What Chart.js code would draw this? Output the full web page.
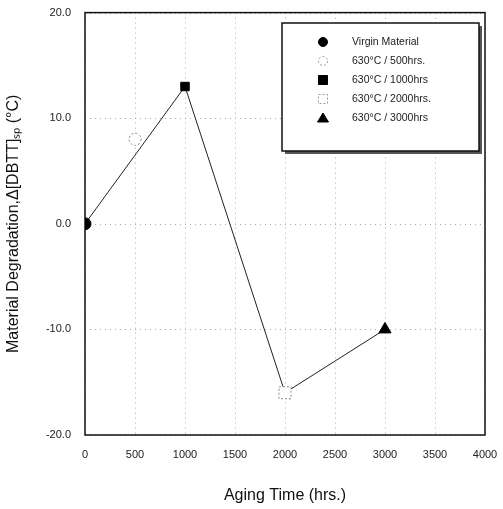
<!DOCTYPE html>
<html>
<head>
<meta charset="utf-8">
<script src="https://cdn.jsdelivr.net/npm/chart.js@4/dist/chart.umd.min.js"></script>
<style>
  html, body { margin: 0; padding: 0; background: #fff; }
  #wrap { width: 503px; height: 509px; }
</style>
</head>
<body>
<div id="wrap"><canvas id="chart"></canvas></div>
<script>
// aging time (hrs) and degradation values
const agingHours = [0, 500, 1000, 2000, 3000];
const degradation = [0, 8, 13, -16, -10];
const seriesLabels = [
  "Virgin Material",
  "630\u00B0C / 500hrs.",
  "630\u00B0C / 1000hrs",
  "630\u00B0C / 2000hrs.",
  "630\u00B0C / 3000hrs"
];
// which points the connecting line goes through
const lineHours = [0, 1000, 2000, 3000];
const lineValues = [0, 13, -16, -10];

const xTicks = [0, 500, 1000, 1500, 2000, 2500, 3000, 3500, 4000];
const yTicks = [-20, -10, 0, 10, 20];

const markers = [
  { style: "circle", fill: "#000", border: "#000", dash: [] },
  { style: "circle", fill: "#fff", border: "#999", dash: [2, 2] },
  { style: "rect", fill: "#000", border: "#000", dash: [] },
  { style: "rect", fill: "#fff", border: "#999", dash: [2, 2] },
  { style: "triangle", fill: "#000", border: "#000", dash: [] }
];

const datasets = [{
  label: "line",
  data: lineHours.map((h, i) => ({ x: h, y: lineValues[i] })),
  showLine: true,
  borderColor: "#222",
  borderWidth: 1,
  pointRadius: 0,
  order: 10
}];
agingHours.forEach((h, i) => {
  datasets.push({
    label: seriesLabels[i],
    data: [{ x: h, y: degradation[i] }],
    pointStyle: markers[i].style,
    pointRadius: markers[i].dash.length ? 0 : (markers[i].style === "triangle" ? 7 : 6),
    backgroundColor: markers[i].fill,
    borderColor: markers[i].border,
    borderWidth: 1,
    order: 1
  });
});

// dotted grid, full frame, hollow markers and the boxed legend
const boxLegend = {
  id: "boxLegend",
  beforeDatasetsDraw(chart) {
    const { ctx, chartArea: a, scales } = chart;
    ctx.save();
    ctx.strokeStyle = "#aaa";
    ctx.lineWidth = 1;
    ctx.setLineDash([1, 4]);
    xTicks.forEach(v => {
      const px = Math.round(scales.x.getPixelForValue(v)) + 0.5;
      ctx.beginPath(); ctx.moveTo(px, a.top); ctx.lineTo(px, a.bottom); ctx.stroke();
    });
    yTicks.forEach(v => {
      const py = Math.round(scales.y.getPixelForValue(v)) + 0.5;
      ctx.beginPath(); ctx.moveTo(a.left, py); ctx.lineTo(a.right, py); ctx.stroke();
    });
    ctx.setLineDash([]);
    ctx.strokeStyle = "#111";
    ctx.lineWidth = 1.5;
    ctx.strokeRect(a.left, a.top, a.right - a.left, a.bottom - a.top);
    ctx.restore();
  },
  afterDatasetsDraw(chart) {
    const ctx = chart.ctx;
    agingHours.forEach((h, i) => {
      if (!markers[i].dash.length) return;
      const px = chart.scales.x.getPixelForValue(h);
      const py = chart.scales.y.getPixelForValue(degradation[i]);
      ctx.save();
      ctx.fillStyle = "#fff";
      ctx.strokeStyle = "#888";
      ctx.setLineDash(markers[i].dash);
      ctx.lineWidth = 1;
      ctx.beginPath();
      if (markers[i].style === "circle") ctx.arc(px, py, 6, 0, Math.PI * 2);
      else ctx.rect(px - 6, py - 6, 12, 12);
      ctx.fill();
      ctx.stroke();
      ctx.restore();
    });

    const left = 282, top = 23, w = 197, h = 128;
    ctx.save();
    ctx.fillStyle = "#555";
    ctx.fillRect(left + 3, top + 3, w, h);
    ctx.fillStyle = "#fff";
    ctx.fillRect(left, top, w, h);
    ctx.strokeStyle = "#111";
    ctx.lineWidth = 1.5;
    ctx.strokeRect(left, top, w, h);
    ctx.font = "10.5px 'Liberation Sans', Arial, sans-serif";
    ctx.textBaseline = "middle";
    seriesLabels.forEach((label, i) => {
      const y = top + 19 + i * 19;
      const mx = left + 41;
      const m = markers[i];
      ctx.save();
      ctx.fillStyle = m.fill;
      ctx.strokeStyle = m.border;
      ctx.setLineDash(m.dash);
      ctx.lineWidth = 1;
      ctx.beginPath();
      if (m.style === "circle") ctx.arc(mx, y, 4.5, 0, Math.PI * 2);
      else if (m.style === "rect") ctx.rect(mx - 4.5, y - 4.5, 9, 9);
      else { ctx.moveTo(mx, y - 5); ctx.lineTo(mx + 5.5, y + 4); ctx.lineTo(mx - 5.5, y + 4); ctx.closePath(); }
      ctx.fill();
      ctx.stroke();
      ctx.restore();
      ctx.fillStyle = "#222";
      ctx.fillText(label, left + 70, y);
    });
    ctx.restore();
  }
};

new Chart(document.getElementById("chart"), {
  type: "scatter",
  data: { datasets },
  options: {
    responsive: true,
    maintainAspectRatio: false,
    animation: false,
    layout: { padding: { left: 0, right: 18, top: 10, bottom: 0 } },
    plugins: { legend: { display: false }, tooltip: { enabled: false } },
    scales: {
      x: {
        type: "linear",
        min: 0, max: 4000,
        afterBuildTicks: (axis) => { axis.ticks = xTicks.map(v => ({ value: v })); },
        afterFit: (axis) => { axis.height = 74; },
        border: { display: false },
        grid: { display: false },
        ticks: {
          padding: 5,
          color: "#222",
          font: { family: "'Liberation Sans', Arial", size: 11 },
          callback: (v) => String(v)
        },
        title: {
          display: true,
          text: "Aging Time (hrs.)",
          color: "#111",
          padding: { top: 18 },
          font: { family: "'Liberation Sans', Arial", size: 16 }
        }
      },
      y: {
        type: "linear",
        min: -20, max: 20,
        afterBuildTicks: (axis) => { axis.ticks = yTicks.map(v => ({ value: v })); },
        afterFit: (axis) => { axis.width = 85; },
        border: { display: false },
        grid: { display: false },
        ticks: {
          padding: 6,
          color: "#222",
          font: { family: "'Liberation Sans', Arial", size: 11 },
          callback: (v) => v.toFixed(1)
        },
        title: {
          display: true,
          text: "Material Degradation,\u0394[DBTT]\u209B\u209A (\u00B0C)",
          color: "#111",
          padding: { bottom: 4 },
          font: { family: "'Liberation Sans', Arial", size: 16 }
        }
      }
    }
  },
  plugins: [boxLegend]
});
</script>
</body>
</html>
